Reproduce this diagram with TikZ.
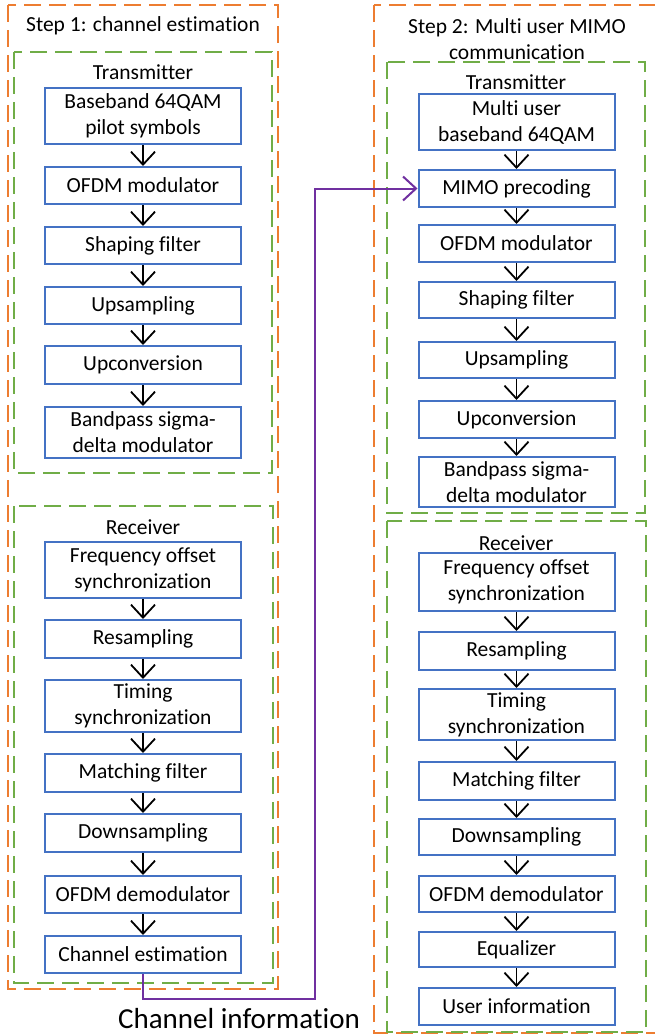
\documentclass[tikz,border=0pt]{standalone}
\usepackage{fontspec}
\setmainfont{Carlito}[Ligatures=NoCommon]
\usetikzlibrary{arrows.meta}
\definecolor{boxblue}{HTML}{4472C4}
\definecolor{grn}{HTML}{70AD47}
\definecolor{org}{HTML}{ED7D31}
\definecolor{prp}{HTML}{7030A0}
\begin{document}
\begin{tikzpicture}[x=1pt,y=-1pt,
  stepbox/.style={draw=boxblue, line width=2pt, minimum width=196pt, align=center, inner sep=0pt,
    font=\fontsize{21.5}{26}\selectfont},
  lbl/.style={align=center, inner sep=0pt, font=\fontsize{21.5}{26}\selectfont},
  greenframe/.style={draw=grn, line width=2pt, dash pattern=on 17pt off 8pt},
  orangeframe/.style={draw=org, line width=2pt, dash pattern=on 17pt off 8pt},
  flow/.style={draw=black, line width=1.8pt, -{Straight Barb[length=13pt,width=24pt,line width=1.8pt]}},
  info/.style={draw=prp, line width=2pt, -{Straight Barb[length=13pt,width=24pt,line width=2pt]}}]
\useasboundingbox (0,0) rectangle (655,1036);

% frames
\draw[orangeframe] (8,5) rectangle (278,989);
\draw[greenframe] (14,52) rectangle (272,473);
\draw[greenframe] (14,506) rectangle (273,983);
\draw[orangeframe] (374,5) rectangle (662,1033);
\draw[greenframe] (387,62) rectangle (645,513);
\draw[greenframe] (387,521) rectangle (646,1032);

% labels
\node[lbl] (s1) at (143,26) {Step 1: channel estimation};
\node[lbl] (lt) at (143,72) {Transmitter};
\node[lbl] (lr) at (143,527) {Receiver};
\node[lbl] (s2) at (517,39) {Step 2: Multi user MIMO\\communication};
\node[lbl] (rt) at (516,82) {Transmitter};
\node[lbl] (rr) at (516,543) {Receiver};
\node[lbl, font=\fontsize{29}{34}\selectfont] (ci) at (239,1019) {Channel information};

% left column
\node[stepbox, minimum height=56pt] (l1) at (143,116) {Baseband 64QAM\\pilot symbols};
\node[stepbox, minimum height=37pt] (l2) at (143,185.5) {OFDM modulator};
\node[stepbox, minimum height=37pt] (l3) at (143,245.5) {Shaping filter};
\node[stepbox, minimum height=37pt] (l4) at (143,305.5) {Upsampling};
\node[stepbox, minimum height=38pt] (l5) at (143,365) {Upconversion};
\node[stepbox, minimum height=51pt] (l6) at (143,432.5) {Bandpass sigma-\\delta modulator};
\node[stepbox, minimum height=56pt] (l7) at (143,570) {Frequency offset\\synchronization};
\node[stepbox, minimum height=38pt] (l8) at (143,639) {Resampling};
\node[stepbox, minimum height=52pt] (l9) at (143,706) {Timing\\synchronization};
\node[stepbox, minimum height=38pt] (l10) at (143,773) {Matching filter};
\node[stepbox, minimum height=38pt] (l11) at (143,833) {Downsampling};
\node[stepbox, minimum height=37pt] (l12) at (143,894.5) {OFDM demodulator};
\node[stepbox, minimum height=37pt] (l13) at (143,954.5) {Channel estimation};

% right column
\node[stepbox, minimum height=56pt] (r1) at (516.5,122) {Multi user\\baseband 64QAM};
\node[stepbox, minimum height=37pt] (r2) at (516.5,188.5) {MIMO precoding};
\node[stepbox, minimum height=37pt] (r3) at (516.5,243.5) {OFDM modulator};
\node[stepbox, minimum height=36pt] (r4) at (516.5,300) {Shaping filter};
\node[stepbox, minimum height=36pt] (r5) at (516.5,360) {Upsampling};
\node[stepbox, minimum height=37pt] (r6) at (516.5,419.5) {Upconversion};
\node[stepbox, minimum height=50pt] (r7) at (516.5,482) {Bandpass sigma-\\delta modulator};
\node[stepbox, minimum height=58pt] (r8) at (516.5,582) {Frequency offset\\synchronization};
\node[stepbox, minimum height=38pt] (r9) at (516.5,651) {Resampling};
\node[stepbox, minimum height=51pt] (r10) at (516.5,714.5) {Timing\\synchronization};
\node[stepbox, minimum height=38pt] (r11) at (516.5,781) {Matching filter};
\node[stepbox, minimum height=36pt] (r12) at (516.5,837) {Downsampling};
\node[stepbox, minimum height=36pt] (r13) at (516.5,894) {OFDM demodulator};
\node[stepbox, minimum height=35pt] (r14) at (516.5,949.5) {Equalizer};
\node[stepbox, minimum height=37pt] (r15) at (516.5,1006.5) {User information};

% flow arrows
\foreach \a/\b in {l1/l2,l2/l3,l3/l4,l4/l5,l5/l6,l7/l8,l8/l9,l9/l10,l10/l11,l11/l12,l12/l13,
  r1/r2,r2/r3,r3/r4,r4/r5,r5/r6,r6/r7,r8/r9,r9/r10,r10/r11,r11/r12,r12/r13,r13/r14,r14/r15}
  \draw[flow] (\a.south) -- (\b.north);

% channel information link
\coordinate (turn) at (315,999);
\draw[info] (l13.south) |- (turn) |- (r2.west);
\end{tikzpicture}
\end{document}
